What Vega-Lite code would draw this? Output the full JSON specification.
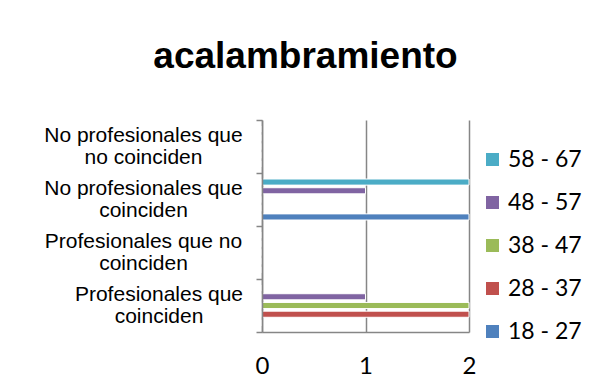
{
  "$schema": "https://vega.github.io/schema/vega-lite/v6.json",
  "autosize": "none",
  "width": 207,
  "height": 212,
  "padding": {"left": 262, "top": 120, "right": 120, "bottom": 45},
  "background": "white",
  "title": {
    "text": "acalambramiento",
    "font": "Liberation Sans",
    "fontSize": 37,
    "fontWeight": "bold",
    "color": "black",
    "anchor": "middle",
    "frame": "group",
    "dx": -60,
    "baseline": "alphabetic",
    "offset": 4
  },
  "data": {
    "values": [
      {"categoria": "Profesionales que coinciden", "edad": "18 - 27", "valor": 0},
      {"categoria": "Profesionales que coinciden", "edad": "28 - 37", "valor": 2},
      {"categoria": "Profesionales que coinciden", "edad": "38 - 47", "valor": 2},
      {"categoria": "Profesionales que coinciden", "edad": "48 - 57", "valor": 1},
      {"categoria": "Profesionales que coinciden", "edad": "58 - 67", "valor": 0},
      {"categoria": "Profesionales que no coinciden", "edad": "18 - 27", "valor": 0},
      {"categoria": "Profesionales que no coinciden", "edad": "28 - 37", "valor": 0},
      {"categoria": "Profesionales que no coinciden", "edad": "38 - 47", "valor": 0},
      {"categoria": "Profesionales que no coinciden", "edad": "48 - 57", "valor": 0},
      {"categoria": "Profesionales que no coinciden", "edad": "58 - 67", "valor": 0},
      {"categoria": "No profesionales que coinciden", "edad": "18 - 27", "valor": 2},
      {"categoria": "No profesionales que coinciden", "edad": "28 - 37", "valor": 0},
      {"categoria": "No profesionales que coinciden", "edad": "38 - 47", "valor": 0},
      {"categoria": "No profesionales que coinciden", "edad": "48 - 57", "valor": 1},
      {"categoria": "No profesionales que coinciden", "edad": "58 - 67", "valor": 2},
      {"categoria": "No profesionales que no coinciden", "edad": "18 - 27", "valor": 0},
      {"categoria": "No profesionales que no coinciden", "edad": "28 - 37", "valor": 0},
      {"categoria": "No profesionales que no coinciden", "edad": "38 - 47", "valor": 0},
      {"categoria": "No profesionales que no coinciden", "edad": "48 - 57", "valor": 0},
      {"categoria": "No profesionales que no coinciden", "edad": "58 - 67", "valor": 0}
    ]
  },
  "mark": {"type": "bar", "stroke": "white", "strokeWidth": 1},
  "encoding": {
    "y": {
      "field": "categoria",
      "type": "nominal",
      "scale": {
        "domain": ["No profesionales que no coinciden", "No profesionales que coinciden", "Profesionales que no coinciden", "Profesionales que coinciden"],
        "paddingInner": 0,
        "paddingOuter": 0
      },
      "axis": {
        "title": null,
        "tickBand": "extent",
        "domainColor": "#868686",
        "domainWidth": 1.5,
        "tickColor": "#868686",
        "tickWidth": 1.5,
        "tickSize": 6,
        "zindex": 1,
        "labelFont": "Liberation Sans",
        "labelFontSize": 21,
        "labelColor": "black",
        "labelAlign": "center",
        "labelBaseline": "middle",
        "labelLineHeight": 22,
        "labelOffset": -11,
        "labelLimit": 300,
        "labelPadding": {"condition": {"test": "datum.value == 'Profesionales que coinciden'", "value": 97.5}, "value": 113},
        "labelExpr": "datum.label == 'No profesionales que no coinciden' ? ['No profesionales que', 'no coinciden'] : datum.label == 'No profesionales que coinciden' ? ['No profesionales que', 'coinciden'] : datum.label == 'Profesionales que no coinciden' ? ['Profesionales que no', 'coinciden'] : datum.label == 'Profesionales que coinciden' ? ['Profesionales que', 'coinciden'] : ''"
      }
    },
    "yOffset": {
      "field": "edad",
      "type": "nominal",
      "scale": {
        "domain": ["58 - 67", "48 - 57", "38 - 47", "28 - 37", "18 - 27"],
        "paddingInner": 0.3,
        "paddingOuter": 0.69
      }
    },
    "x": {
      "field": "valor",
      "type": "quantitative",
      "scale": {"domain": [0, 2], "nice": false},
      "axis": {
        "title": null,
        "values": [0, 1, 2],
        "labelExpr": "format(datum.value, 'd')",
        "ticks": false,
        "grid": true,
        "gridColor": "#868686",
        "gridWidth": 1.5,
        "domainColor": "#868686",
        "domainWidth": 1.5,
        "labelFont": "Lato",
        "labelFontSize": 24,
        "labelColor": "black",
        "labelPadding": 22,
        "labelFlush": false,
        "labelOverlap": false
      }
    },
    "color": {
      "field": "edad",
      "type": "nominal",
      "scale": {
        "domain": ["58 - 67", "48 - 57", "38 - 47", "28 - 37", "18 - 27"],
        "range": ["#4BACC6", "#8064A2", "#9BBB59", "#C0504D", "#4F81BD"]
      },
      "legend": {
        "title": null,
        "orient": "none",
        "legendX": 219,
        "legendY": 28,
        "padding": 0,
        "symbolType": "square",
        "symbolSize": 169,
        "symbolStrokeWidth": 0,
        "symbolOffset": 0,
        "labelFont": "Lato",
        "labelFontSize": 23,
        "labelColor": "black",
        "labelOffset": 4,
        "rowPadding": 19
      }
    }
  },
  "config": {
    "view": {"stroke": null}
  }
}
